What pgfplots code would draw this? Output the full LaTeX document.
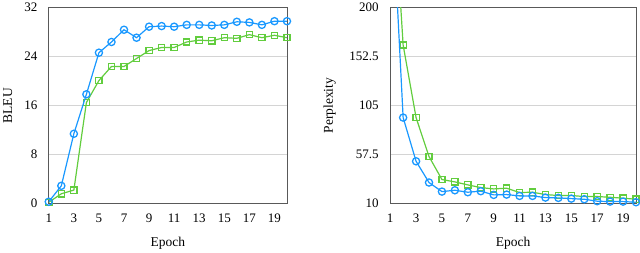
\documentclass[border=0pt]{standalone}
\usepackage{fontspec}
\setmainfont{Liberation Serif}
\usepackage{pgfplots}
\pgfplotsset{compat=1.18}
\definecolor{cblue}{RGB}{25,152,255}
\definecolor{cgreen}{RGB}{98,205,62}
\pgfplotsset{mystyle/.style={
  scale only axis, anchor=south west, height=196pt,
  xmin=1, xmax=20, xtick={1,3,...,19},
  ymajorgrids, major grid style={black!17, line width=1pt},
  axis line style={black!65, line width=0.9pt},
  major tick length=0pt,
  tick label style={font=\fontsize{13}{15}\selectfont},
  label style={font=\fontsize{13.5}{16}\selectfont},
  /pgf/number format/assume math mode=true,
  xticklabel style={yshift=-7pt},
  yticklabel style={xshift=-8pt},
  clip mode=individual,
  every axis plot/.append style={line width=1.2pt},
  xlabel=Epoch,
  xlabel style={at={([yshift=-40pt]axis description cs:0.5,0)}, anchor=center},
}}
\pgfplotsset{pblue/.style={color=cblue, mark=o, mark size=3.6pt, mark options={fill=white, solid, line width=1.3pt}},
  pgreen/.style={color=cgreen, mark=square, mark size=3.1pt, mark options={fill=white, solid, line width=1.3pt}}}
\begin{document}
\begin{tikzpicture}
\path (0pt,0pt) rectangle (640pt,249pt);
\begin{axis}[mystyle, at={(48.3pt,48pt)}, width=238.4pt,
  ymin=0, ymax=32, ytick={0,8,16,24,32}, ylabel=BLEU,
  ylabel style={at={([xshift=-41pt]axis description cs:0,0.5)}, anchor=center}]
\addplot[pgreen] coordinates {(1,0.2)(2,1.6)(3,2.2)(4,16.5)(5,20.1)(6,22.4)(7,22.4)(8,23.7)(9,25.0)(10,25.5)(11,25.5)(12,26.4)(13,26.7)(14,26.6)(15,27.1)(16,27.0)(17,27.6)(18,27.1)(19,27.5)(20,27.1)};
\addplot[pblue] coordinates {(1,0.3)(2,2.9)(3,11.4)(4,17.85)(5,24.65)(6,26.4)(7,28.4)(8,27.1)(9,28.9)(10,29.0)(11,28.9)(12,29.2)(13,29.2)(14,29.1)(15,29.2)(16,29.7)(17,29.6)(18,29.2)(19,29.8)(20,29.8)};
\end{axis}
\begin{axis}[mystyle, at={(390pt,48pt)}, width=246pt,
  ymin=10, ymax=200, ytick={10,57.5,105,152.5,200}, ylabel=Perplexity,
  ylabel style={at={([xshift=-60.5pt]axis description cs:0,0.5)}, anchor=center}]
\addplot[pgreen] coordinates {(1,365)(2,163.8)(3,93.4)(4,55.6)(5,33.3)(6,31.0)(7,28.1)(8,25.5)(9,24.2)(10,24.9)(11,20.7)(12,21.0)(13,18.7)(14,17.8)(15,17.8)(16,16.8)(17,16.8)(18,16.1)(19,15.2)(20,14.2)};
\addplot[pblue] coordinates {(1,340)(2,93.4)(3,51.0)(4,30.4)(5,21.6)(6,22.9)(7,21.0)(8,22.0)(9,18.4)(10,18.7)(11,17.4)(12,17.4)(13,15.8)(14,15.5)(15,14.8)(16,14.2)(17,12.3)(18,11.9)(19,11.9)(20,11.3)};
\end{axis}
\end{tikzpicture}
\end{document}
